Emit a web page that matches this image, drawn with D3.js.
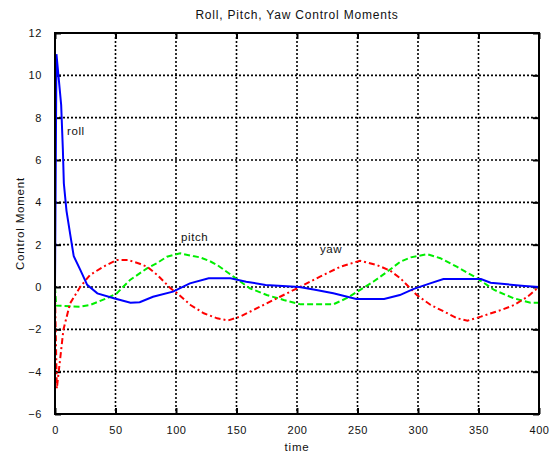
<!DOCTYPE html>
<html><head><meta charset="utf-8">
<script src="https://cdn.jsdelivr.net/npm/d3@7/dist/d3.min.js"></script>
<style>
body{margin:0;background:#fff;}
text{font-family:"Liberation Sans",Arial,sans-serif;fill:#111;}
</style></head>
<body>
<svg id="c" width="556" height="453"></svg>
<script>
const xTicks = [0,50,100,150,200,250,300,350,400];
const yTicks = [-6,-4,-2,0,2,4,6,8,10,12];

const rollT = [0,1.2,5.1,6.5,7.3,9.5,12.8,15.5,21,26.6,35,48.6,62.4,70,81,97.5,111.5,127,145,158,174,202,216,230,249,272,285,296,310,321,352,360,388,400];
const rollV = [0,11,8.6,6.5,4.9,3.6,2.4,1.45,0.8,0.1,-0.3,-0.53,-0.74,-0.72,-0.46,-0.22,0.17,0.41,0.41,0.25,0.1,0,-0.14,-0.3,-0.57,-0.57,-0.38,-0.1,0.17,0.38,0.38,0.2,0.05,0];

const pitchT = [0,1,20.5,29,43,51,62,76,84,92.5,103.5,114,120,128,134,147.5,161,175,189,203,230,241,250,263,274.5,285.5,294,307.5,318.5,332,349,363,379,393,400];
const pitchV = [0,-0.88,-0.93,-0.85,-0.53,-0.3,0.33,0.88,1.12,1.43,1.59,1.46,1.4,1.22,1.04,0.49,-0.06,-0.38,-0.61,-0.82,-0.82,-0.53,-0.22,0.25,0.72,1.2,1.4,1.55,1.36,0.96,0.41,-0.14,-0.53,-0.74,-0.74];

const yawT = [0,1.5,7,12.5,21,29,40,51,60,70,76,84.5,95.5,101,112,123,134,143,153,169.5,186,203,219,236,252,266,277,285.5,299,310.5,321.5,332.5,341,352,368.5,379.5,390.5,400];
const yawV = [-0.3,-4.8,-2.0,-0.77,0.02,0.57,0.96,1.28,1.28,1.1,0.96,0.57,-0.06,-0.3,-0.85,-1.24,-1.48,-1.58,-1.4,-0.93,-0.46,0.02,0.49,0.96,1.24,1.04,0.77,0.41,-0.38,-0.85,-1.16,-1.48,-1.59,-1.4,-1.09,-0.85,-0.46,0];

const L=55, R=539, T=33, B=414;
const svg = d3.select("#c");
const x = d3.scaleLinear().domain([0,400]).range([L,R]);
const y = d3.scaleLinear().domain([-6,12]).range([B,T]);

// grid
const g = svg.append("g");
g.selectAll(".gx").data(xTicks.slice(1,-1)).enter().append("line")
 .attr("x1",d=>x(d)).attr("x2",d=>x(d)).attr("y1",T).attr("y2",B)
 .attr("stroke","#000").attr("stroke-width",1.6).attr("stroke-dasharray","2,2");
g.selectAll(".gy").data(yTicks.slice(1,-1)).enter().append("line")
 .attr("y1",d=>y(d)).attr("y2",d=>y(d)).attr("x1",L).attr("x2",R)
 .attr("stroke","#000").attr("stroke-width",1.6).attr("stroke-dasharray","2,2");

// axes
const ax = (gen, tr) => svg.append("g").attr("transform",tr).call(gen)
  .call(s=>s.select(".domain").remove())
  .call(s=>s.selectAll("line").attr("stroke","#000").attr("stroke-width",2));
const fmt = d3.format("d");
const bx = ax(d3.axisBottom(x).tickValues(xTicks).tickSizeInner(-6).tickSizeOuter(0).tickPadding(12).tickFormat(fmt), `translate(0,${B})`);
bx.selectAll("text").attr("font-size",11).style("letter-spacing","0.6px").attr("fill","#111");
ax(d3.axisTop(x).tickValues(xTicks).tickSizeInner(-6).tickSizeOuter(0).tickFormat(""), `translate(0,${T})`);
const ly = ax(d3.axisLeft(y).tickValues(yTicks).tickSizeInner(-6).tickSizeOuter(0).tickPadding(13).tickFormat(fmt), `translate(${L},0)`);
ly.selectAll("text").attr("font-size",11).style("letter-spacing","0.6px").attr("fill","#111");
ax(d3.axisRight(y).tickValues(yTicks).tickSizeInner(-6).tickSizeOuter(0).tickFormat(""), `translate(${R},0)`);
svg.selectAll(".tick text").style("font-family","Liberation Sans, Arial, sans-serif");

// lines
const clip = svg.append("clipPath").attr("id","pc").append("rect")
  .attr("x",L).attr("y",T).attr("width",R-L).attr("height",B-T);
const line = d3.line().x(d=>x(d[0])).y(d=>y(d[1]));
const zip = (a,b)=>a.map((t,i)=>[t,b[i]]);
const series = [
  {t:pitchT,v:pitchV,c:"#00ee00",dash:"6,3"},
  {t:yawT,v:yawV,c:"#ff0000",dash:"6,3,2,3"},
  {t:rollT,v:rollV,c:"#0000ff",dash:null}
];
series.forEach(s=>{
  svg.append("path").attr("d",line(zip(s.t,s.v))).attr("fill","none")
   .attr("stroke",s.c).attr("stroke-width",2).attr("clip-path","url(#pc)")
   .attr("stroke-dasharray",s.dash);
});

// border
svg.append("rect").attr("x",L).attr("y",T).attr("width",R-L).attr("height",B-T)
 .attr("fill","none").attr("stroke","#000").attr("stroke-width",2);

// texts
svg.append("text").attr("x",(L+R)/2).attr("y",19).attr("text-anchor","middle")
 .attr("font-size",12).style("letter-spacing","0.8px").text("Roll, Pitch, Yaw Control Moments");
svg.append("text").attr("x",(L+R)/2).attr("y",451).attr("text-anchor","middle")
 .attr("font-size",11.5).style("letter-spacing","0.8px").text("time");
svg.append("text").attr("transform",`translate(24,${(T+B)/2}) rotate(-90)`).attr("text-anchor","middle")
 .attr("font-size",11.5).style("letter-spacing","0.8px").text("Control Moment");
svg.append("text").attr("x",67).attr("y",135).attr("font-size",11.5).style("letter-spacing","0.6px").text("roll");
svg.append("text").attr("x",181).attr("y",241).attr("font-size",11.5).style("letter-spacing","0.6px").text("pitch");
svg.append("text").attr("x",320).attr("y",253).attr("font-size",11.5).style("letter-spacing","0.6px").text("yaw");
</script>
</body></html>
